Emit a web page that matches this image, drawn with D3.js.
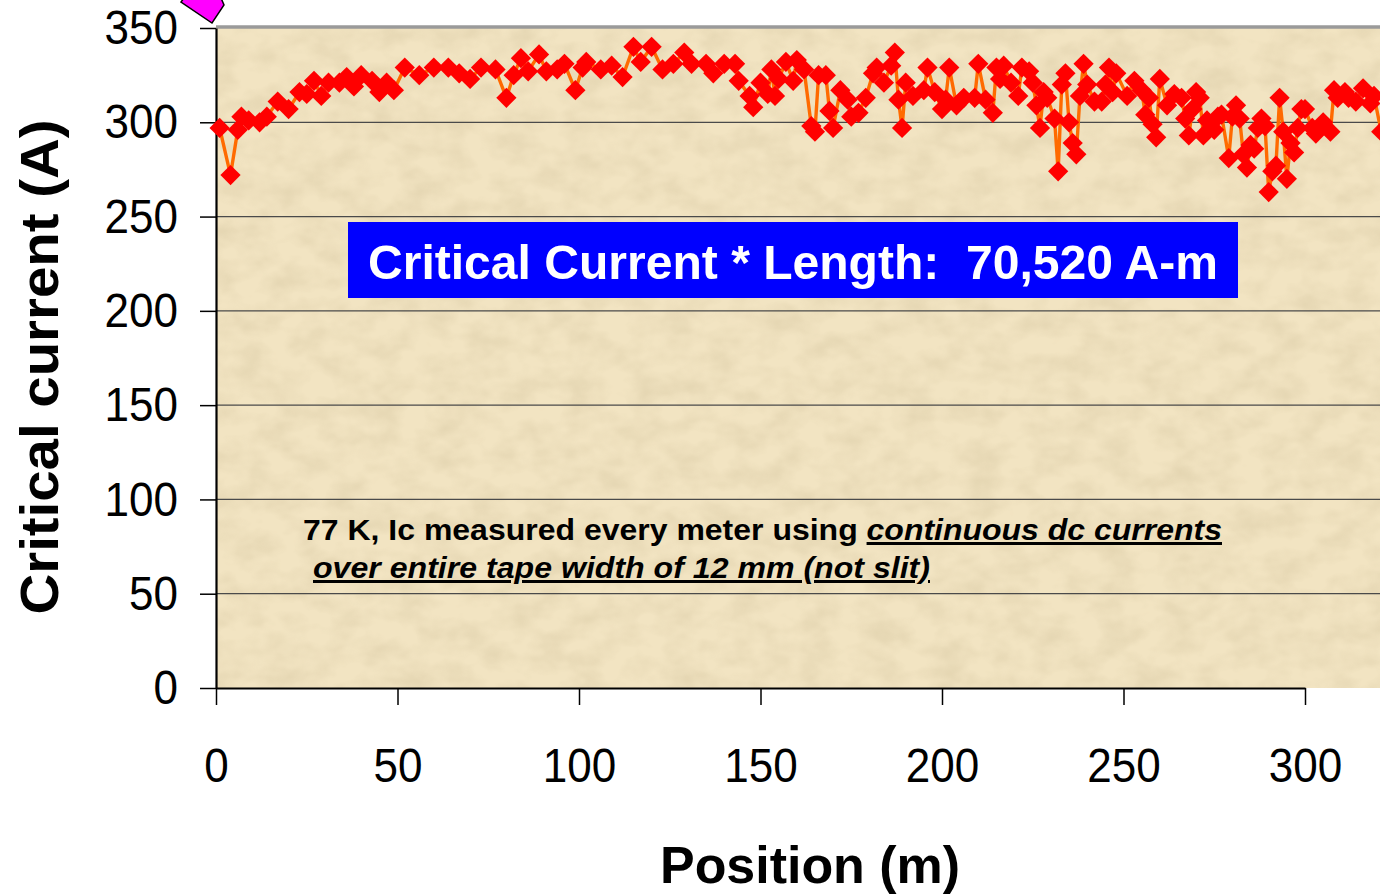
<!DOCTYPE html>
<html>
<head>
<meta charset="utf-8">
<script src="https://cdn.jsdelivr.net/npm/d3@7"></script>
<style>
  html, body { margin: 0; padding: 0; background: #fff; overflow: hidden; }
  text { font-family: Arial, "Liberation Sans", sans-serif; white-space: pre; }
</style>
</head>
<body>
<div id="chart"></div>
<script>
// tape position (m) and critical current (A)
let positions = [1, 4, 6, 7, 9, 12, 14, 17, 20, 23, 25, 27, 29, 31, 34, 36, 38, 40, 43, 45, 47, 49,
  52, 56, 60, 64, 67, 70, 73, 77, 80, 82, 84, 86, 89, 91, 94, 96, 99, 101, 102, 106, 109, 112,
  115, 117, 120, 123, 126, 129, 131, 135, 137, 140, 143, 144, 147, 148, 150, 152, 153, 154, 155,
  157, 159, 160, 162, 164, 165, 166, 168, 169, 170, 172, 174, 175, 177, 179, 181, 182, 184, 186,
  187, 188, 189, 190, 192, 195, 196, 198, 200, 201, 202, 204, 206, 209, 210, 212, 214, 215, 216,
  217, 219, 221, 222, 224, 225, 226, 227, 228, 229, 231, 232, 233, 234, 235, 236, 237, 238, 239,
  240, 242, 244, 245, 246, 247, 248, 251, 253, 255, 256, 257, 258, 259, 260, 262, 264, 266, 267,
  268, 269, 270, 271, 272, 273, 275, 276, 277, 279, 280, 281, 282, 283, 284, 285, 286, 287, 288,
  289, 290, 291, 292, 293, 294, 295, 296, 297, 298, 299, 300, 302, 303, 305, 307, 308, 309, 311,
  312, 314, 316, 318, 319, 321];
let currents = [297, 272, 296, 303, 301, 300, 303, 311, 307, 316, 315, 322, 314, 321, 321, 324, 319, 325, 322, 316, 321, 317,
  329, 325, 329, 329, 326, 323, 329, 328, 313, 325, 334, 327, 336, 327, 328, 331, 317, 329, 332, 328, 330, 324,
  340, 332, 340, 328, 331, 337, 331, 331, 326, 331, 331, 322, 314, 308, 321, 315, 328, 314, 323,
  332, 322, 333, 328, 298, 295, 325, 325, 306, 297, 317, 312, 303, 305, 313, 326, 329, 321, 330,
  337, 312, 297, 321, 314, 317, 329, 316, 307, 312, 329, 309, 313, 313, 331, 312, 305, 329, 323,
  330, 321, 314, 329, 327, 321, 309, 297, 316, 313, 302, 274, 320, 326, 300, 289, 283, 314, 331,
  320, 311, 311, 320, 329, 316, 326, 314, 322, 317, 304, 313, 299, 292, 323, 309, 315, 313, 302,
  293, 307, 316, 313, 293, 301, 296, 303, 304, 281, 303, 309, 302, 283, 276, 288, 286, 297, 302,
  298, 263, 274, 277, 313, 295, 270, 289, 284, 297, 307, 307, 297, 294, 300, 295, 317, 313, 316,
  313, 311, 318, 310, 314, 295];
let yTicks = [0, 50, 100, 150, 200, 250, 300, 350];
let xTicks = [0, 50, 100, 150, 200, 250, 300];

let width = 1380;
let height = 894;
let plotLeft = 216;
let plotTop = 28;
let plotBottom = 688;

let data = positions.map(function (p, i) {
  return { pos: p, ic: currents[i] };
});

let svg = d3
  .select("#chart")
  .append("svg")
  .attr("width", width)
  .attr("height", height);

let xScale = d3.scaleLinear().domain([0, 300]).range([plotLeft, 1305]);
let yScale = d3.scaleLinear().domain([0, 350]).range([plotBottom, plotTop]);

// parchment background
let defs = svg.append("defs");
let filt = defs.append("filter").attr("id", "paper").attr("x", 0).attr("y", 0).attr("width", 1).attr("height", 1);
filt.append("feTurbulence")
  .attr("type", "fractalNoise")
  .attr("baseFrequency", "0.03 0.045")
  .attr("numOctaves", 3)
  .attr("seed", 7);
filt.append("feColorMatrix")
  .attr("type", "matrix")
  .attr("values", "0 0 0 0 0.6  0 0 0 0 0.5  0 0 0 0 0.3  0 0 0 -1.2 0.78");

svg.append("rect")
  .attr("x", plotLeft)
  .attr("y", plotTop)
  .attr("width", width - plotLeft)
  .attr("height", plotBottom - plotTop)
  .attr("fill", "#f2e4c2");
svg.append("rect")
  .attr("x", plotLeft)
  .attr("y", plotTop)
  .attr("width", width - plotLeft)
  .attr("height", plotBottom - plotTop)
  .attr("filter", "url(#paper)")
  .attr("opacity", 0.5);

// gridlines
svg.append("g")
  .selectAll("line")
  .data(yTicks.filter(function (t) { return t > 0 && t < 350; }))
  .enter()
  .append("line")
  .attr("x1", plotLeft)
  .attr("x2", width)
  .attr("y1", function (d) { return yScale(d); })
  .attr("y2", function (d) { return yScale(d); })
  .attr("stroke", "#4a4a4a")
  .attr("stroke-width", 1.2);

// top border
svg.append("line")
  .attr("x1", plotLeft)
  .attr("x2", width)
  .attr("y1", yScale(350) - 1)
  .attr("y2", yScale(350) - 1)
  .attr("stroke", "#9a9a9a")
  .attr("stroke-width", 3.5);

// axes
let yAxis = d3.axisLeft(yScale).tickValues(yTicks).tickSize(16).tickSizeOuter(0).tickPadding(22);
let xAxis = d3.axisBottom(xScale).tickValues(xTicks).tickSize(17).tickSizeOuter(0).tickPadding(42);

let gy = svg.append("g")
  .attr("transform", "translate(" + plotLeft + ",0)")
  .call(yAxis);
let gx = svg.append("g")
  .attr("transform", "translate(0," + plotBottom + ")")
  .call(xAxis);

[gx, gy].forEach(function (g) {
  g.select(".domain").attr("stroke", "#000").attr("stroke-width", 2.2);
  g.selectAll(".tick line").attr("stroke", "#000").attr("stroke-width", 1.5);
  g.selectAll(".tick text")
    .attr("font-size", 49)
    .attr("font-family", "Arial, 'Liberation Sans', sans-serif")
    .attr("fill", "#000")
    .attr("lengthAdjust", "spacingAndGlyphs")
    .attr("textLength", function (d) { return String(d).length * 24.5; });
});

// series
let line = d3.line()
  .x(function (d) { return xScale(d.pos); })
  .y(function (d) { return yScale(d.ic); });

svg.append("path")
  .datum(data)
  .attr("d", line)
  .attr("fill", "none")
  .attr("stroke", "#ff6a00")
  .attr("stroke-width", 3.4)
  .attr("stroke-linejoin", "round");

let diamond = d3.symbol().type(d3.symbolSquare).size(205);
svg.append("g")
  .selectAll("path")
  .data(data)
  .enter()
  .append("path")
  .attr("d", diamond)
  .attr("transform", function (d) {
    return "translate(" + xScale(d.pos) + "," + yScale(d.ic) + ") rotate(45)";
  })
  .attr("fill", "#ff0000");

// blue result box
svg.append("rect")
  .attr("x", 348)
  .attr("y", 222)
  .attr("width", 890)
  .attr("height", 76)
  .attr("fill", "#0000ff");
svg.append("text")
  .attr("x", 368)
  .attr("y", 279)
  .attr("font-size", 48)
  .attr("font-weight", "bold")
  .attr("fill", "#fff")
  .attr("textLength", 850)
  .attr("lengthAdjust", "spacingAndGlyphs")
  .text("Critical Current * Length:  70,520 A-m");

// measurement note
let note = svg.append("text")
  .attr("x", 303)
  .attr("y", 540)
  .attr("font-size", 30)
  .attr("font-weight", "bold")
  .attr("fill", "#000")
  .attr("textLength", 919)
  .attr("lengthAdjust", "spacingAndGlyphs");
note.append("tspan").text("77 K, Ic measured every meter using ");
note.append("tspan")
  .attr("font-style", "italic")
  .attr("text-decoration", "underline")
  .text("continuous dc currents");

svg.append("text")
  .attr("x", 313)
  .attr("y", 578)
  .attr("font-size", 30)
  .attr("font-weight", "bold")
  .attr("font-style", "italic")
  .attr("text-decoration", "underline")
  .attr("fill", "#000")
  .attr("textLength", 617)
  .attr("lengthAdjust", "spacingAndGlyphs")
  .text("over entire tape width of 12 mm (not slit)");

// axis titles
svg.append("text")
  .attr("transform", "translate(58,367) rotate(-90)")
  .attr("text-anchor", "middle")
  .attr("font-size", 54)
  .attr("font-weight", "bold")
  .attr("textLength", 495)
  .attr("lengthAdjust", "spacingAndGlyphs")
  .text("Critical current (A)");

svg.append("text")
  .attr("x", 810)
  .attr("y", 883)
  .attr("text-anchor", "middle")
  .attr("font-size", 52)
  .attr("font-weight", "bold")
  .attr("textLength", 300)
  .attr("lengthAdjust", "spacingAndGlyphs")
  .text("Position (m)");

// magenta arrow tip poking in at the top
svg.append("polygon")
  .attr("points", "184,-2 221,-2 224,5 212,23 181,2")
  .attr("fill", "#ff00ff")
  .attr("stroke", "#000")
  .attr("stroke-width", 1.5);
</script>
</body>
</html>
